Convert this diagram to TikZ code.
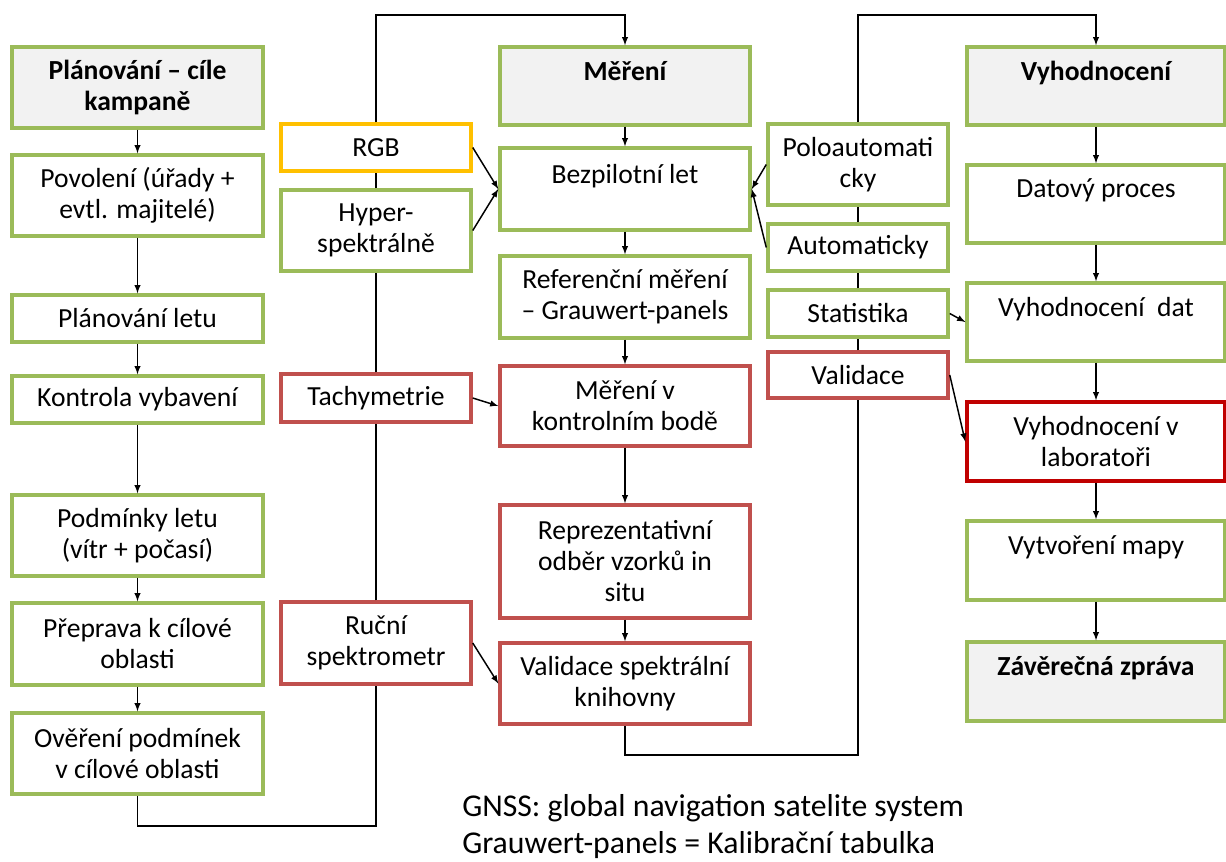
\documentclass[tikz,border=0pt]{standalone}
\usepackage{fontspec}
\setmainfont{Carlito}
\usepackage{tikz}
\usetikzlibrary{positioning}

\definecolor{boxgreen}{RGB}{155,187,89}
\definecolor{boxorange}{RGB}{255,192,0}
\definecolor{boxred}{RGB}{192,80,77}
\definecolor{labred}{RGB}{192,0,0}
\definecolor{headgray}{RGB}{242,242,242}

\tikzset{
  box/.style={draw, line width=2.6pt, fill=white, align=center, inner sep=0pt,
    font=\fontsize{20.7}{23.25}\selectfont},
  greenbox/.style={box, draw=boxgreen},
  orangebox/.style={box, draw=boxorange},
  redbox/.style={box, draw=boxred},
  labbox/.style={box, draw=labred},
  headbox/.style={greenbox, fill=headgray, font=\fontsize{20.7}{23.25}\selectfont\bfseries},
  colA/.style={minimum width=188.25pt},
  colB/.style={minimum width=142.5pt},
  colC/.style={minimum width=187.5pt},
  colD/.style={minimum width=135pt},
  colE/.style={minimum width=193.5pt},
  conn/.style={line width=1.1pt, ->, >=latex},
  wire/.style={line width=1.1pt}
}

\begin{document}
\begin{tikzpicture}[x=0.75pt,y=0.75pt,yscale=-1,xscale=1]
\useasboundingbox (0,0) rectangle (1226,861);

% Column: planning
\node [headbox, colA, minimum height=60.75pt] (plan) at (137.5,87.5) {Plánování – cíle\\kampaně};
\node [greenbox, colA, minimum height=60.75pt] (povoleni) at (137.5,195.5) {Povolení (úřady +\\evtl. majitelé)};
\node [greenbox, colA, minimum height=35.25pt] (planlet) at (137.5,318.5) {Plánování letu};
\node [greenbox, colA, minimum height=35.25pt] (kontrola) at (137.5,399.5) {Kontrola vybavení};
\node [greenbox, colA, minimum height=60.75pt] (podminky) at (137.5,535.5) {Podmínky letu\\(vítr + počasí)};
\node [greenbox, colA, minimum height=61.5pt] (preprava) at (137.5,644) {Přeprava k cílové\\oblasti};
\node [greenbox, colA, minimum height=60.75pt] (overeni) at (137.5,753.5) {Ověření podmínek\\v cílové oblasti};

% Column: sensors and ground measurement
\node [orangebox, colB, minimum height=35.25pt] (rgb) at (376,147.5) {RGB};
\node [greenbox, colB, minimum height=60.75pt] (hyper) at (376,230.5) {Hyper-\\spektrálně};
\node [redbox, colB, minimum height=36pt] (tachy) at (376,398) {Tachymetrie};
\node [redbox, colB, minimum height=61.5pt] (rucni) at (376,643) {Ruční\\spektrometr};

% Column: measurement
\node [headbox, colC, minimum height=58.5pt] (mereni) at (625,86) {Měření\\\mbox{}};
\node [greenbox, colC, minimum height=61.5pt] (bezpil) at (625,189) {Bezpilotní let\\\mbox{}};
\node [greenbox, colC, minimum height=61.5pt] (refer) at (625,297) {Referenční měření\\– Grauwert-panels};
\node [redbox, colC, minimum height=60pt] (kontr) at (625,406) {Měření v\\kontrolním bodě};
\node [redbox, colC, minimum height=84.75pt] (reprez) at (625,561.5) {Reprezentativní\\odběr vzorků in\\situ};
\node [redbox, colC, minimum height=60.75pt] (valspek) at (625,683.5) {Validace spektrální\\knihovny};

% Column: processing modes
\node [greenbox, colD, minimum height=60.75pt] (polo) at (858,164.5) {Poloautomati\\cky};
\node [greenbox, colD, minimum height=35.25pt] (auto) at (858,247.5) {Automaticky};
\node [greenbox, colD, minimum height=35.25pt] (stat) at (858,313.5) {Statistika};
\node [redbox, colD, minimum height=34.5pt] (valid) at (858,375) {Validace};

% Column: evaluation
\node [headbox, colE, minimum height=58.5pt] (vyhod) at (1096,86) {Vyhodnocení\\\mbox{}};
\node [greenbox, colE, minimum height=58.5pt] (datovy) at (1096,204) {Datový proces\\\mbox{}};
\node [greenbox, colE, minimum height=58.5pt] (vyhdat) at (1096,322) {Vyhodnocení~ dat\\\mbox{}};
\node [labbox, colE, minimum height=59.25pt] (lab) at (1096,441.5) {Vyhodnocení v\\laboratoři};
\node [greenbox, colE, minimum height=59.25pt] (mapa) at (1096,560.5) {Vytvoření mapy\\\mbox{}};
\node [headbox, colE, minimum height=59.25pt] (zaver) at (1096,681.5) {Závěrečná zpráva\\\mbox{}};

% Text Node
\node [anchor=west, align=left, inner sep=0pt, font=\fontsize{23.8}{27.75}\selectfont] (legend) at (462,826.5) {GNSS: global navigation satelite system\\Grauwert-panels = Kalibrační tabulka};

% corner points of the long connectors
\coordinate (topL) at (376,15);
\coordinate (botL) at (376,826);
\coordinate (topR) at (858,15);
\coordinate (botR) at (858,755);

% arrows inside the columns
\draw [conn] (plan) -- (povoleni);
\draw [conn] (povoleni) -- (planlet);
\draw [conn] (planlet) -- (kontrola);
\draw [conn] (kontrola) -- (podminky);
\draw [conn] (podminky) -- (preprava);
\draw [conn] (preprava) -- (overeni);

\draw [conn] (mereni) -- (bezpil);
\draw [conn] (bezpil) -- (refer);
\draw [conn] (refer) -- (kontr);
\draw [conn] (kontr) -- (reprez);
\draw [conn] (reprez) -- (valspek);

\draw [conn] (vyhod) -- (datovy);
\draw [conn] (datovy) -- (vyhdat);
\draw [conn] (vyhdat) -- (lab);
\draw [conn] (lab) -- (mapa);
\draw [conn] (mapa) -- (zaver);

% side inputs
\draw [conn] (rgb.east) -- (bezpil.west);
\draw [conn] (hyper.east) -- (bezpil.west);
\draw [conn] (tachy.east) -- (kontr.west);
\draw [conn] (rucni.east) -- (valspek.west);
\draw [conn] (polo.west) -- (bezpil.east);
\draw [conn] (auto.west) -- (bezpil.east);
\draw [conn] (stat.east) -- (vyhdat.west);
\draw [conn] (valid.east) -- (lab.west);

% long connectors between the phases
\draw [wire] (overeni.south) |- (botL) -- (rucni.south);
\draw [wire] (rucni.north) -- (tachy.south);
\draw [wire] (tachy.north) -- (hyper.south);
\draw [wire] (hyper.north) -- (rgb.south);
\draw [conn] (rgb.north) -- (topL) -| (mereni.north);

\draw [wire] (valspek.south) |- (botR) -- (valid.south);
\draw [wire] (valid.north) -- (stat.south);
\draw [wire] (stat.north) -- (auto.south);
\draw [wire] (auto.north) -- (polo.south);
\draw [conn] (polo.north) -- (topR) -| (vyhod.north);

\end{tikzpicture}
\end{document}
